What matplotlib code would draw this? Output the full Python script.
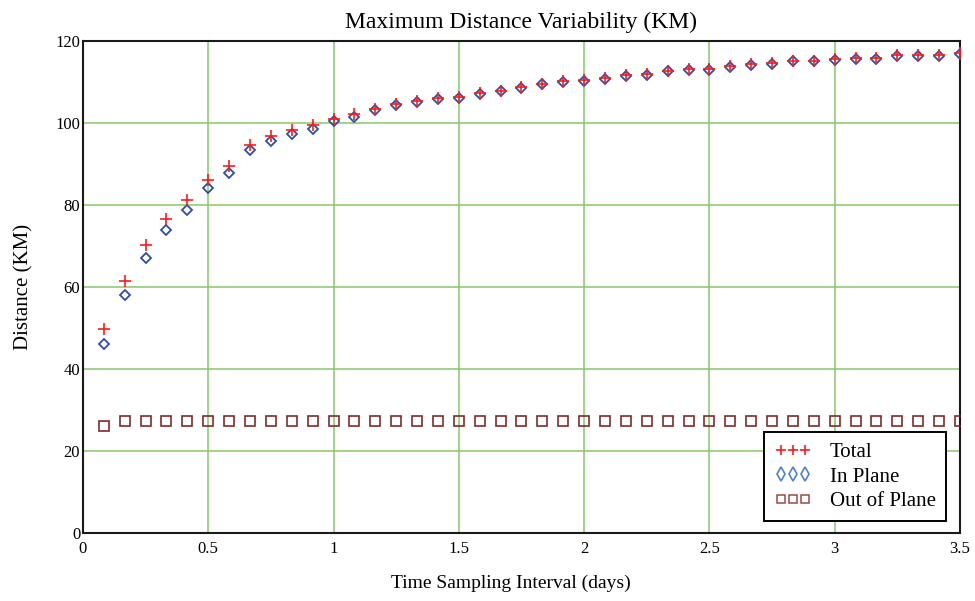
import numpy as np
import matplotlib
matplotlib.use('Agg')
import matplotlib.pyplot as plt
from matplotlib.lines import Line2D

# data, sampling interval k/12 days, k = 1..42
interval = [k / 12 for k in range(1, 43)]

in_plane = [46.2, 58.0, 67.1, 73.8, 78.8, 84.1, 87.9, 93.4, 95.6, 97.3,
            98.6, 100.4, 101.5, 103.2, 104.4, 105.2, 105.8, 106.1, 107.0, 107.7,
            108.5, 109.4, 110.0, 110.2, 110.7, 111.5, 111.8, 112.6, 112.9, 112.9,
            113.7, 114.1, 114.5, 115.0, 115.0, 115.3, 115.7, 115.7, 116.3, 116.3,
            116.3, 116.8]

total = [49.8, 61.5, 70.3, 76.6, 81.1, 86.1, 89.6, 94.7, 96.8, 98.2,
         99.4, 101.0, 102.1, 103.5, 104.6, 105.4, 106.0, 106.3, 107.2, 107.9,
         108.7, 109.6, 110.2, 110.4, 110.9, 111.7, 112.0, 112.8, 113.1, 113.1,
         113.9, 114.3, 114.7, 115.2, 115.2, 115.5, 115.9, 115.9, 116.5, 116.5,
         116.5, 117.0]

out_of_plane = [26.0] + [27.4] * 41

x_ticks = [0, 0.5, 1, 1.5, 2, 2.5, 3, 3.5]
x_tick_labels = ['0', '0.5', '1', '1.5', '2', '2.5', '3', '3.5']
y_ticks = [0, 20, 40, 60, 80, 100, 120]

plt.rcParams['font.family'] = ['Liberation Serif', 'DejaVu Serif']

fig = plt.figure(figsize=(9.75, 6.01), dpi=100)
ax = fig.add_axes([0.0851, 0.1131, 0.8995, 0.8187])

ax.plot(interval, total, linestyle='none', marker='+', markersize=8,
        markeredgewidth=1.2, color='#ff1a1a', zorder=4)
ax.plot(interval, in_plane, linestyle='none', marker='D', markersize=5,
        markeredgewidth=1.3, markerfacecolor='none', markeredgecolor='#2e4ea6',
        zorder=3)
ax.plot(interval, out_of_plane, linestyle='none', marker='s', markersize=7,
        markeredgewidth=1.2, markerfacecolor='none', markeredgecolor='#7f2b2b',
        zorder=3)

ax.set_xlim(0, 3.5)
ax.set_ylim(0, 120)
ax.set_xticks(x_ticks)
ax.set_xticklabels(x_tick_labels)
ax.set_yticks(y_ticks)
ax.tick_params(length=0, labelsize=12)
ax.tick_params(axis='x', pad=6)
ax.tick_params(axis='y', pad=2)

ax.grid(True, color='#86c867', linewidth=1.1)
ax.set_axisbelow(True)
for side in ['left', 'bottom', 'top', 'right']:
    ax.spines[side].set_linewidth(1.5)
    ax.spines[side].set_color('#1a1a1a')

ax.set_title('Maximum Distance Variability (KM)', fontsize=17, pad=9)
ax.set_xlabel('Time Sampling Interval (days)', fontsize=14)
ax.xaxis.set_label_coords(0.488, -0.085)
ax.set_ylabel('Distance (KM)', fontsize=15)
ax.yaxis.set_label_coords(-0.056, 0.5)

# legend keys drawn like the original: +++, thin diamonds, small squares
keys = [
    Line2D([], [], linestyle='none', marker='+', markersize=6.5,
           markeredgewidth=1.2, color='#ff1a1a', label='Total'),
    Line2D([], [], linestyle='none', marker='d', markersize=7.5,
           markeredgewidth=1.2, markerfacecolor='none',
           markeredgecolor='#4f7fcf', label='In Plane'),
    Line2D([], [], linestyle='none', marker='s', markersize=5.5,
           markeredgewidth=1.1, markerfacecolor='none',
           markeredgecolor='#9a4a4a', label='Out of Plane'),
]
leg = ax.legend(handles=keys, loc='lower right', bbox_to_anchor=(0.984, 0.024),
                borderaxespad=0, numpoints=3, fontsize=15, fancybox=False,
                framealpha=1, edgecolor='black', handlelength=1.75,
                handletextpad=0.9, labelspacing=0.22, borderpad=0.5)
leg.get_frame().set_linewidth(1.4)

fig.savefig('out.png', dpi=100)
